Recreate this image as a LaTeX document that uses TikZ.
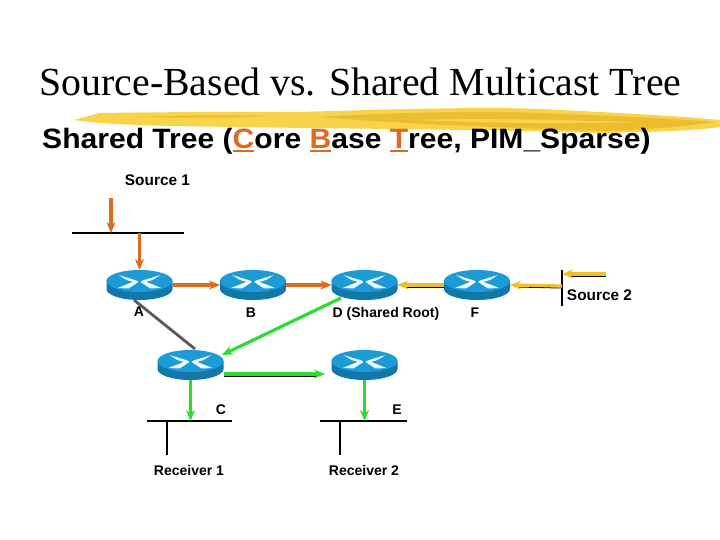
\documentclass[tikz,border=0pt]{standalone}
\usepackage{fontspec}
\usepackage{graphicx}
\setmainfont{Liberation Sans}
\newfontfamily\titlefont{Liberation Serif}
\usetikzlibrary{arrows.meta}
\definecolor{rtop}{HTML}{1C9BD6}
\definecolor{rside}{HTML}{1277AB}
\definecolor{orangeline}{HTML}{DD6A1E}
\definecolor{yellowline}{HTML}{F2BE22}
\definecolor{greenline}{HTML}{2EDC2E}
\definecolor{brush}{HTML}{F9D44A}
\definecolor{brushdark}{HTML}{EDBD30}
\tikzset{
  routerbox/.style={minimum width=66pt,minimum height=30pt,inner sep=0pt,outer sep=0pt},
  lbl/.style={font=\fontsize{14}{15}\selectfont\bfseries,inner sep=0pt},
  srclbl/.style={font=\fontsize{15.4}{16}\selectfont\bfseries,inner sep=0pt},
  bus/.style={line width=1.8pt,black},
  tip/.style={-{Stealth[length=11pt,width=9pt]}},
  orangearrow/.style={tip,line width=3.2pt,orangeline},
  yellowarrow/.style={tip,line width=3.2pt,yellowline},
  greenarrow/.style={tip,line width=3.2pt,greenline},
  shadowline/.style={line width=1pt,black},
}
% orange underlined letter of the subtitle
\newcommand{\keyletter}[1]{\textcolor{orangeline}{\setbox0\hbox{#1}\rlap{\rule[-4pt]{\wd0}{2pt}}\box0}}
% router: named box plus the drum and four white arrows
\newcommand{\router}[2]{%
  \node[routerbox] (#1) at (#2) {};
  \begin{scope}[shift={(#2)}]
    \fill[rside] (-33,-4) -- (-33,4) arc[start angle=180,end angle=0,x radius=33,y radius=11] -- (33,-4) -- cycle;
    \fill[rtop] (0,-4) ellipse[x radius=33,y radius=11];
    \fill[white!92!rtop] (-21,-10) -- (-3,-4.5) -- (-5,-2.5) -- (-13,-5) -- cycle;
    \fill[white!92!rtop] (21,-10) -- (3,-4.5) -- (5,-2.5) -- (13,-5) -- cycle;
    \fill[white!92!rtop] (-22,3) -- (-3,-4.5) -- (-1,-3) -- (-11,3.5) -- cycle;
    \fill[white!92!rtop] (22,3) -- (3,-4.5) -- (1,-3) -- (11,3.5) -- cycle;
  \end{scope}}
\begin{document}
\begin{tikzpicture}[x=1pt,y=-1pt]
\useasboundingbox (0,0) rectangle (720,540);
\fill[white] (0,0) rectangle (720,540);

% brush stroke under the title
\fill[brush] (74,120) -- (100,113) .. controls (160,112) and (230,112) .. (300,112)
  .. controls (400,109) and (500,106) .. (560,110)
  .. controls (620,113) and (680,116) .. (720,120)
  -- (720,127) .. controls (700,130) and (660,132) .. (600,133)
  .. controls (500,130) and (400,129) .. (300,128)
  .. controls (200,126) and (120,127) .. (74,120) -- cycle;
\fill[brushdark] (320,117) .. controls (400,112) and (500,110) .. (560,114)
  .. controls (620,116) and (680,119) .. (716,122)
  .. controls (680,127) and (640,131) .. (590,131)
  .. controls (500,127) and (400,124) .. (320,117) -- cycle;
\fill[brush] (420,120) .. controls (480,118) and (560,120) .. (640,122)
  .. controls (560,124) and (480,123) .. (420,120) -- cycle;
\fill[brushdark] (140,117) .. controls (180,115) and (230,115) .. (270,116)
  .. controls (230,118) and (180,118) .. (140,117) -- cycle;

\node[font=\titlefont\fontsize{39.8}{42}\selectfont,inner sep=0pt] (title) at (360.5,82) {Source-Based vs. Shared Multicast Tree};
\node[font=\fontsize{28}{30}\selectfont\bfseries,inner sep=0pt,anchor=west] (subtitle) at (42,141)
  {\scalebox{1.074}[1]{Shared Tree (\keyletter{C}ore \keyletter{B}ase \keyletter{T}ree, PIM\_Sparse)}};

\router{a}{139.5,285}
\router{b}{253,285}
\router{d}{364.5,285}
\router{f}{477,285}
\router{c}{190.5,365}
\router{e}{364.5,365}

% coordinates for free ends
\coordinate (s1top) at (111,198);
\coordinate (s1hit) at (111,233);
\coordinate (lan1l) at (72,233);
\coordinate (lan1r) at (184,233);
\coordinate (lan1t) at (139.5,233);
\coordinate (s2a) at (606,274);
\coordinate (s2b) at (562,274);
\coordinate (s2c) at (562,286);
\coordinate (lan2t) at (562,270);
\coordinate (lan2b) at (562,306);
\coordinate (lan3l) at (147,421);
\coordinate (lan3r) at (232,421);
\coordinate (lan3t) at (190.5,421);
\coordinate (lan3s) at (167,421);
\coordinate (rx1) at (167,455);
\coordinate (lan4l) at (320,421);
\coordinate (lan4r) at (407,421);
\coordinate (lan4t) at (364.5,421);
\coordinate (lan4s) at (340,421);
\coordinate (rx2) at (340,455);
\coordinate (dlow) at (341,298);
\coordinate (ctop) at (222,355);
\coordinate (alow) at (134,300);
\coordinate (cgray) at (195,349);
\coordinate (cout) at (223.5,374);
\coordinate (ein) at (325,374);

% network lines
\draw[bus] (lan1l) -- (lan1r);
\draw[bus] (lan2t) -- (lan2b);
\draw[bus] (lan3l) -- (lan3r);
\draw[bus] (lan3s) -- (rx1);
\draw[bus] (lan4l) -- (lan4r);
\draw[bus] (lan4s) -- (rx2);

% source 1, orange
\draw[orangearrow] (s1top) -- (s1hit);
\draw[orangearrow] (lan1t) -- (a.north);
\draw[orangearrow] (a.east) -- (b.west);
\draw[orangearrow] (b.east) -- (d.west);

% source 2, yellow with a dark edge below
\draw[shadowline] ([yshift=-2pt]f.west) -- ([yshift=-2pt,xshift=8pt]d.east);
\draw[shadowline] ([yshift=-2pt]s2c) -- ([yshift=-2pt,xshift=8pt]f.east);
\draw[shadowline] ([yshift=-2pt]s2a) -- ([yshift=-2pt,xshift=8pt]s2b);
\draw[yellowarrow] (f.west) -- (d.east);
\draw[yellowarrow] (s2c) -- (f.east);
\draw[yellowarrow] (s2a) -- (s2b);

% receivers, green and grey
\draw[line width=2.8pt,color=black!65] (alow) -- (cgray);
\draw[greenarrow] (dlow) -- (ctop);
\draw[shadowline] ([yshift=-2pt]cout) -- ([yshift=-2pt,xshift=-8pt]ein);
\draw[greenarrow] (cout) -- (ein);
\draw[greenarrow] (c.south) -- (lan3t);
\draw[greenarrow] (e.south) -- (lan4t);

% labels
\node[srclbl] (ls1) at (157.5,180) {Source 1};
\node[srclbl] (ls2) at (599.5,295) {Source 2};
\node[lbl] (la) at (139,312) {A};
\node[lbl] (lb) at (251,313) {B};
\node[lbl] (ld) at (386,314) {D (Shared Root)};
\node[lbl] (lf) at (475,313) {F};
\node[lbl] (lc) at (221,410) {C};
\node[lbl] (le) at (397,410) {E};
\node[lbl] (lr1) at (189,470) {Receiver 1};
\node[lbl] (lr2) at (364,470) {Receiver 2};
\end{tikzpicture}
\end{document}
